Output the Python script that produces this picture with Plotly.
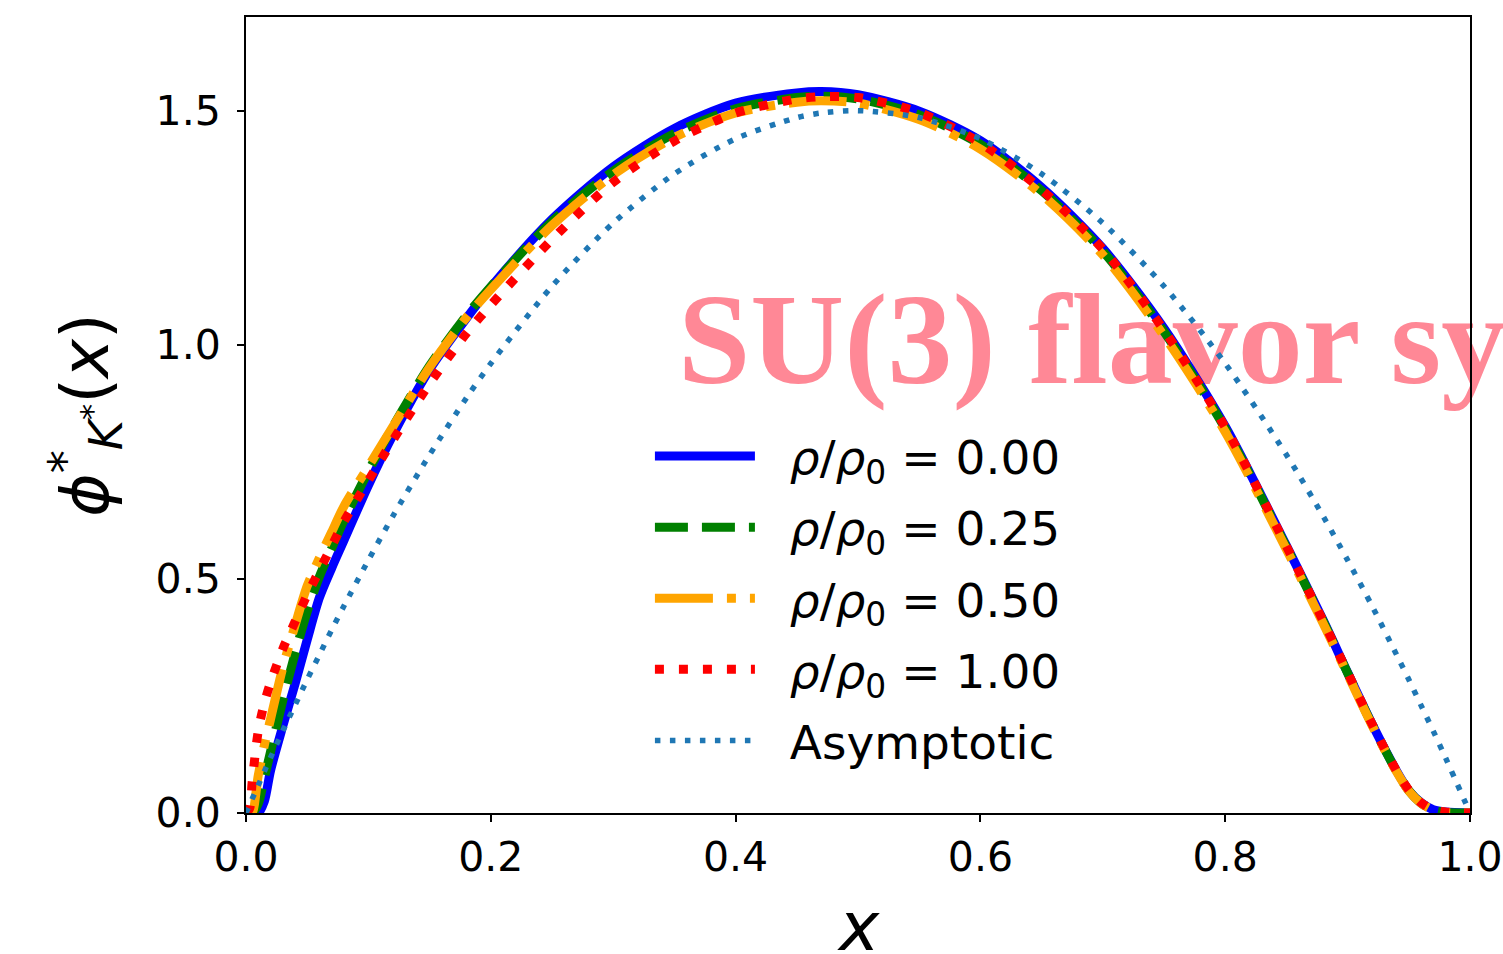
import plotly.graph_objects as go

x_vals = [0, 0.003, 0.005, 0.01, 0.015, 0.02, 0.03, 0.04, 0.05, 0.06, 0.07, 0.08,
          0.10, 0.12, 0.15, 0.18, 0.20, 0.25, 0.30, 0.35, 0.40, 0.45, 0.47, 0.50,
          0.55, 0.60, 0.65, 0.70, 0.75, 0.80, 0.85, 0.88, 0.90, 0.92, 0.94, 0.95,
          0.96, 0.97, 0.98, 1.00]

phi_rho000 = [0, 0, 0, 0, 0.025, 0.09, 0.185, 0.275, 0.37, 0.46, 0.523, 0.582,
              0.70, 0.807, 0.947, 1.056, 1.123, 1.268, 1.380, 1.462, 1.516, 1.538, 1.541, 1.534,
              1.499, 1.436, 1.336, 1.206, 1.035, 0.826, 0.571, 0.412, 0.30, 0.19, 0.09, 0.048,
              0.022, 0.007, 0.002, 0]

phi_rho025 = [0, 0, 0, 0.02, 0.075, 0.13, 0.24, 0.34, 0.43, 0.505, 0.565, 0.625,
              0.73, 0.825, 0.955, 1.062, 1.124, 1.263, 1.371, 1.451, 1.504, 1.528, 1.531, 1.525,
              1.491, 1.428, 1.329, 1.200, 1.028, 0.821, 0.568, 0.41, 0.299, 0.189, 0.089, 0.048,
              0.021, 0.006, 0.001, 0]

phi_rho050 = [0, 0, 0, 0.08, 0.145, 0.20, 0.31, 0.40, 0.485, 0.545, 0.60, 0.655,
              0.74, 0.825, 0.952, 1.058, 1.118, 1.255, 1.363, 1.443, 1.495, 1.518, 1.521, 1.516,
              1.481, 1.418, 1.321, 1.192, 1.019, 0.814, 0.563, 0.405, 0.296, 0.187, 0.088, 0.047,
              0.021, 0.006, 0.001, 0]

phi_rho100 = [0, 0.01, 0.065, 0.175, 0.235, 0.278, 0.35, 0.408, 0.466, 0.518, 0.57, 0.622,
              0.71, 0.796, 0.917, 1.024, 1.085, 1.225, 1.347, 1.435, 1.495, 1.525, 1.530, 1.528,
              1.496, 1.431, 1.331, 1.204, 1.031, 0.824, 0.57, 0.41, 0.30, 0.19, 0.09, 0.049,
              0.022, 0.007, 0.002, 0]

phi_asym = [0, 0.018, 0.030, 0.059, 0.089, 0.118, 0.175, 0.230, 0.285, 0.338, 0.391, 0.442,
            0.540, 0.634, 0.765, 0.886, 0.960, 1.125, 1.260, 1.365, 1.440, 1.485, 1.495, 1.500,
            1.485, 1.440, 1.365, 1.260, 1.125, 0.960, 0.765, 0.634, 0.540, 0.442, 0.338, 0.285,
            0.230, 0.175, 0.118, 0]

NB = "\u00a0\u00a0"
series_names = [NB + "<i>ρ</i>/<i>ρ</i><sub>0</sub> = 0.00",
                NB + "<i>ρ</i>/<i>ρ</i><sub>0</sub> = 0.25",
                NB + "<i>ρ</i>/<i>ρ</i><sub>0</sub> = 0.50",
                NB + "<i>ρ</i>/<i>ρ</i><sub>0</sub> = 1.00",
                NB + "Asymptotic"]
series_vals = [phi_rho000, phi_rho025, phi_rho050, phi_rho100, phi_asym]
colors = ["#0000ff", "#008000", "#ffa500", "#ff0000", "#1f77b4"]
dashes = ["solid", "33px,14px", "58px,14px,9px,14px", "9px,15px", "5.5px,9.5px"]
widths = [9, 9, 9, 9, 5.5]

x_ticks = [0.0, 0.2, 0.4, 0.6, 0.8, 1.0]
x_ticklabels = ["0.0", "0.2", "0.4", "0.6", "0.8", "1.0"]
y_ticks = [0.0, 0.5, 1.0, 1.5]
y_ticklabels = ["0.0", "0.5", "1.0", "1.5"]

x_title = "<i>x</i>"
y_title = "<i>ϕ</i><sup>*</sup><sub><i>K</i><sup>*</sup></sub>(<i>x</i>)"
watermark = "SU(3) flavor symmetry"

fig = go.Figure()

fig.add_trace(go.Scatter(
    x=[0.353], y=[0.850], mode="text", text=[watermark], textposition="top right",
    textfont=dict(family="Liberation Serif", size=130, color="#ff8896", weight="bold"),
    cliponaxis=False, showlegend=False, hoverinfo="skip"))

for i, (name, vals) in enumerate(zip(series_names, series_vals)):
    fig.add_trace(go.Scatter(
        x=x_vals, y=vals, mode="lines", name=name, legendgroup=f"g{i}",
        line=dict(color=colors[i], width=widths[i], dash=dashes[i],
                  shape="spline", smoothing=0.8)))

fig.add_annotation(
    text=x_title, xref="paper", yref="paper", x=0.5, y=-0.143,
    xanchor="center", yanchor="middle", showarrow=False,
    font=dict(family="DejaVu Sans", size=68, color="black"))

fig.update_layout(
    width=1503, height=954,
    margin=dict(l=246, r=33, t=17, b=141),
    paper_bgcolor="white", plot_bgcolor="white",
    font=dict(family="DejaVu Sans", color="black"),
    showlegend=True,
    legend=dict(
        x=0.330, xanchor="left", y=0.495, yanchor="top",
        bgcolor="rgba(0,0,0,0)", borderwidth=0,
        font=dict(family="DejaVu Sans", size=47, color="black"),
        traceorder="grouped", tracegroupgap=7, itemwidth=100,
    ),
    xaxis=dict(
        range=[0, 1.0], tickvals=x_ticks, ticktext=x_ticklabels, automargin=False,
        ticks="outside", ticklen=7, tickwidth=2, tickcolor="black",
        showline=True, linecolor="black", linewidth=2, mirror=True,
        showgrid=False, zeroline=False,
        tickfont=dict(family="DejaVu Sans", size=41, color="black"),
    ),
    yaxis=dict(
        range=[0, 1.70], tickvals=y_ticks, ticktext=y_ticklabels, automargin=False,
        ticks="outside", ticklen=7, tickwidth=2, tickcolor="black",
        ticklabelstandoff=8,
        showline=True, linecolor="black", linewidth=2, mirror=True,
        showgrid=False, zeroline=False,
        tickfont=dict(family="DejaVu Sans", size=41, color="black"),
        title=dict(text=y_title, font=dict(family="DejaVu Sans", size=66, color="black"), standoff=25),
    ),
)

fig.write_html(
    "out.html",
    config={"displayModeBar": False},
    post_script=("document.documentElement.style.margin='0';"
                 "document.documentElement.style.overflow='hidden';"
                 "document.body.style.margin='0';"
                 "document.body.style.overflow='hidden';"),
)
